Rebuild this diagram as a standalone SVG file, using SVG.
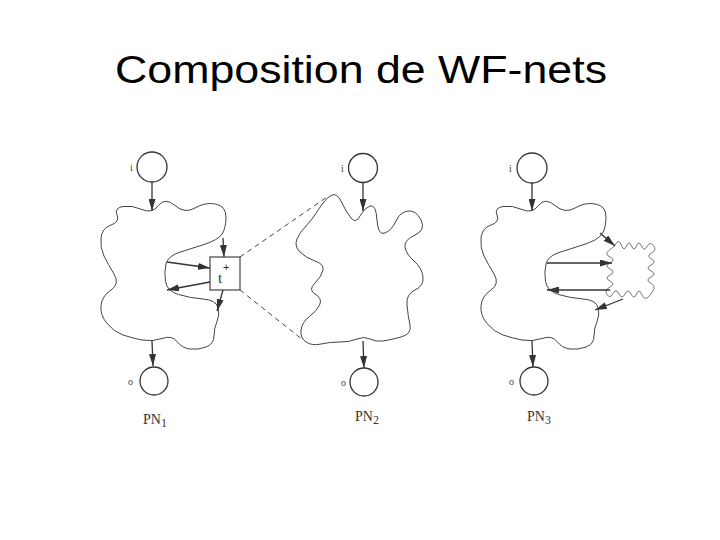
<svg xmlns="http://www.w3.org/2000/svg" xmlns:xlink="http://www.w3.org/1999/xlink" width="720" height="540" viewBox="0 0 720 540">
  <style>
    .title { font-family: "Liberation Sans", Arial, sans-serif; font-size: 39px; fill: #000; }
    .place { fill: #fff; stroke: #333; stroke-width: 1.3; }
    .cloud { fill: none; stroke: #444; stroke-width: 1; }
    .small { fill: none; stroke: #666; stroke-width: 0.9; }
    .arc { fill: none; stroke: #333; stroke-width: 1.3; marker-end: url(#ah); }
    .dash { fill: none; stroke: #444; stroke-width: 1; stroke-dasharray: 5 4; }
    .lbl { font-family: "Liberation Serif", "Times New Roman", serif; font-size: 10px; fill: #444; }
    .tl { font-family: "Liberation Serif", "Times New Roman", serif; font-size: 15px; fill: #333; }
    .tp { font-family: "Liberation Sans", Arial, sans-serif; font-size: 11px; fill: #333; }
    .pn { font-family: "Liberation Serif", "Times New Roman", serif; font-size: 14px; fill: #333; }
    .sub { font-size: 12px; }
    .trans { fill: #fff; stroke: #444; stroke-width: 1.2; }
  </style>
  <defs>
    <marker id="ah" viewBox="0 0 12 7" refX="12" refY="3.5" markerWidth="12" markerHeight="7" markerUnits="userSpaceOnUse" orient="auto">
      <path d="M0,0 L12,3.5 L0,7 z" fill="#333"/>
    </marker>
    <path id="cshape" d="M 142,209.5 Q 152,214 158.5,205.5 Q 165,197 175,205.5 Q 185,214 195,208 Q 205,202 215.5,204 Q 226,206 226,217 Q 226,228 222,234 Q 218,240 204,244.5 Q 190,249 179,252.5 Q 168,256 166,264 Q 164,272 165.5,281.5 Q 167,291 178.5,294.5 Q 190,298 203,299 Q 216,300 218,307.5 Q 220,315 217,321.5 Q 214,328 214,336 Q 214,344 206,347 Q 198,350 190,349 Q 182,348 177,341.5 Q 172,335 162,338.5 Q 152,342 142,340 Q 132,338 123,335 Q 114,332 107,323.5 Q 100,315 101,305.5 Q 102,296 111,290 Q 120,284 114,274 Q 108,264 104,256 Q 100,248 101,238 Q 102,228 111,225 Q 120,222 117,215 Q 114,208 123,206.5 Q 132,205 142,209.5 Z"/>
  </defs>
  <rect x="0" y="0" width="720" height="540" fill="#fff"/>
  <text class="title" x="115" y="83" textLength="492" lengthAdjust="spacingAndGlyphs">Composition de WF-nets</text>

  <g id="pn1">
    <g id="pn1-i"><circle class="place" cx="152" cy="167" r="15"/><text class="lbl" x="130" y="171">i</text></g>
    <g id="pn1-net"><use xlink:href="#cshape" class="cloud"/></g>
    <g id="pn1-t"><rect class="trans" x="210" y="257" width="30" height="33"/><text class="tl" x="218" y="283">t</text><text class="tp" x="223" y="271">+</text></g>
    <g id="pn1-o"><circle class="place" cx="154" cy="381" r="14"/><text class="lbl" x="128" y="385">o</text></g>
    <text class="pn" x="143" y="424">PN<tspan class="sub" dy="3">1</tspan></text>
  </g>

  <g id="pn2">
    <g id="pn2-i"><circle class="place" cx="363" cy="168" r="14.5"/><text class="lbl" x="341" y="172">i</text></g>
    <g id="pn2-net"><path class="cloud" d="M 318.5,209.5 Q 325,199 331,195.5 Q 337,192 341.5,202 Q 346,212 351,218 Q 356,224 360,216 Q 364,208 370,206 Q 376,204 377,220 Q 378,236 385,233 Q 392,230 396,221 Q 400,212 408,211 Q 416,210 421,220 Q 426,230 415,235 Q 404,240 405,247 Q 406,254 414,261 Q 422,268 423,277 Q 424,286 415,290 Q 406,294 407,305 Q 408,316 410,325 Q 412,334 401,337 Q 390,340 383,341 Q 376,342 370,339 Q 364,336 357,339 Q 350,342 340,342 Q 330,342 321,344 Q 312,346 306,342 Q 300,338 301,330 Q 302,322 310,316 Q 318,310 320,304 Q 322,298 315,294 Q 308,290 315,283 Q 322,276 323,270 Q 324,264 315,261 Q 306,258 300,252 Q 294,246 297,239 Q 300,232 306,226 Q 312,220 318.5,209.5 Z"/></g>
    <g id="pn2-o"><circle class="place" cx="364" cy="382" r="14"/><text class="lbl" x="341" y="386">o</text></g>
    <text class="pn" x="355" y="421">PN<tspan class="sub" dy="3">2</tspan></text>
  </g>

  <g id="pn3">
    <g id="pn3-i"><circle class="place" cx="532" cy="168" r="15"/><text class="lbl" x="509" y="172">i</text></g>
    <g id="pn3-net"><use xlink:href="#cshape" class="cloud" transform="translate(380,0)"/></g>
    <g id="pn3-sub"><path class="small" d="M 609,250.5 Q 614,247 616.5,243 Q 619,239 621.5,245.5 Q 624,252 626.5,246 Q 629,240 631.5,246 Q 634,252 636.5,246 Q 639,240 641.5,246 Q 644,252 647,246.5 Q 650,241 653.5,245.5 Q 657,250 651.5,253 Q 646,256 651.5,259 Q 657,262 651,265 Q 645,268 651,271 Q 657,274 651,277 Q 645,280 650.5,283 Q 656,286 653,291 Q 650,296 647,298 Q 644,300 641.5,294 Q 639,288 636.5,294 Q 634,300 631,294 Q 628,288 625,294 Q 622,300 619,294 Q 616,288 613,293.5 Q 610,299 607,294.5 Q 604,290 610,287 Q 616,284 610,281 Q 604,278 610,275 Q 616,272 610,269 Q 604,266 610,263 Q 616,260 610,257 Q 604,254 609,250.5 Z"/></g>
    <g id="pn3-o"><circle class="place" cx="534" cy="381" r="14"/><text class="lbl" x="509" y="385">o</text></g>
    <text class="pn" x="527" y="421">PN<tspan class="sub" dy="3">3</tspan></text>
  </g>

  <g id="connectors">
    <line class="arc" x1="152" y1="182" x2="152" y2="211"/>
    <line class="arc" x1="152" y1="341" x2="153" y2="366"/>
    <line class="arc" x1="223" y1="238" x2="224" y2="257"/>
    <line class="arc" x1="167" y1="262" x2="210" y2="268"/>
    <line class="arc" x1="210" y1="282" x2="167" y2="290"/>
    <line class="arc" x1="223" y1="290" x2="217" y2="311"/>
    <line class="dash" x1="240" y1="257" x2="327" y2="197"/>
    <line class="dash" x1="240" y1="290" x2="303" y2="340"/>
    <line class="arc" x1="363" y1="182" x2="363" y2="211"/>
    <line class="arc" x1="363" y1="341" x2="364" y2="368"/>
    <line class="arc" x1="532" y1="183" x2="532" y2="211"/>
    <line class="arc" x1="532" y1="341" x2="533" y2="367"/>
    <line class="arc" x1="600" y1="233" x2="615" y2="246"/>
    <line class="arc" x1="547" y1="263" x2="612" y2="263"/>
    <line class="arc" x1="610" y1="290" x2="547" y2="290"/>
    <line class="arc" x1="623" y1="299" x2="595" y2="310"/>
  </g>
</svg>
